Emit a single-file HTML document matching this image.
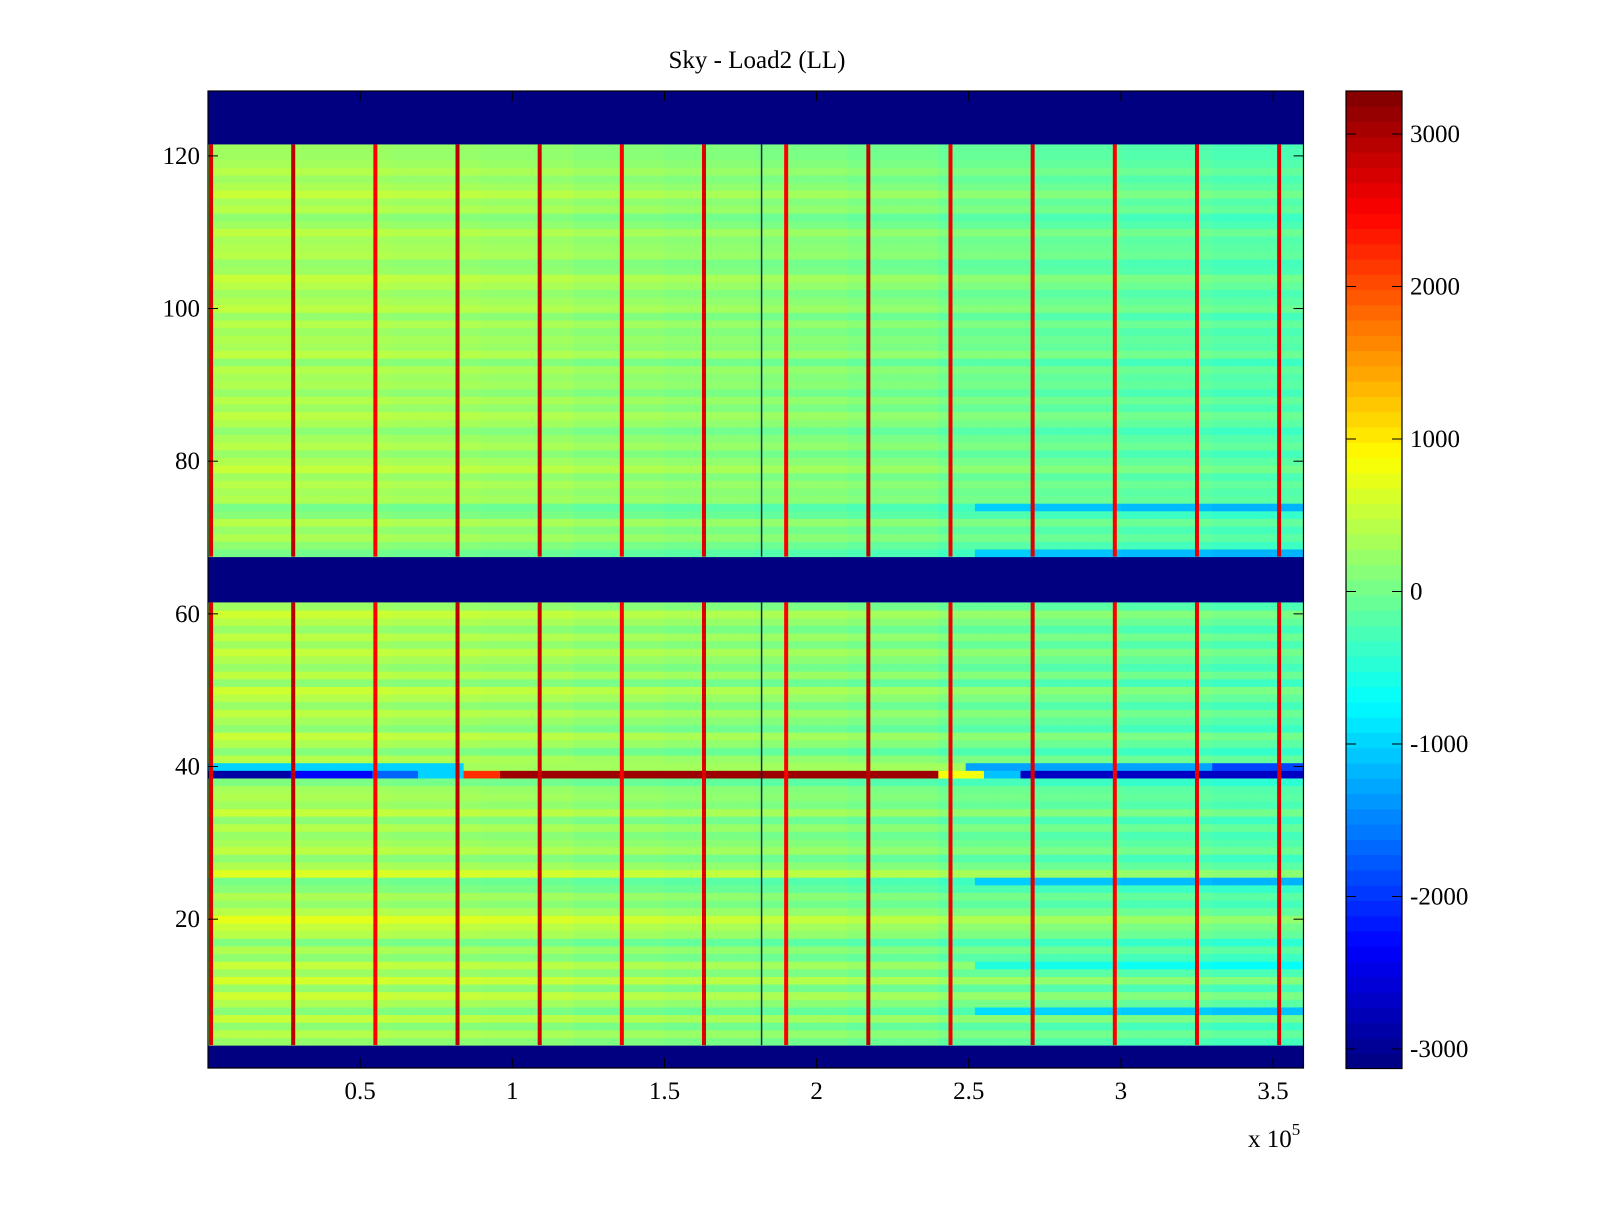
<!DOCTYPE html>
<html><head><meta charset="utf-8">
<style>
html,body{margin:0;padding:0;background:#fff;}
svg text{font-family:"Liberation Serif",serif;font-size:25px;fill:#000;}
</style></head>
<body>
<svg id="chart" width="1600" height="1200" viewBox="0 0 1600 1200" xmlns="http://www.w3.org/2000/svg">
<rect width="1600" height="1200" fill="#fff"/>
<text x="757" y="68" text-anchor="middle">Sky - Load2 (LL)</text>
<g id="cells"></g>
<g id="spikes"></g>
<g id="axes"></g>
<g id="cbar"></g>
<text x="1248" y="1147">x 10<tspan dy="-12" font-size="17">5</tspan></text>
</svg>
<script>
// ---- data ----
const xTicks=[0.5,1,1.5,2,2.5,3,3.5];
const yTicks=[20,40,60,80,100,120];
const cbTicks=[-3000,-2000,-1000,0,1000,2000,3000];
const vMin=-3128, vMax=3282;
const nCols=120, xMax=3.6;
const emptyRows=[[0.5,3.5],[61.5,67.5],[121.5,128.5]];
// column trend per 0.3e5 segment (12 segments)
const colTrend=[280,250,220,190,130,90,50,0,-80,-150,-200,-250];
// row offsets for rows 1..128 (blank rows ignored)
const rowOffset=[0,0,0,-50,150,-100,250,-150,100,300,-50,350,0,250,-100,100,-200,150,250,450,150,-50,100,-150,-250,400,100,-100,200,50,-50,150,-100,250,0,100,50,-200,0,-300,150,-150,100,250,-100,50,200,-50,150,300,-100,200,-50,100,250,0,200,-50,150,300,0,0,0,0,0,0,0,-250,-100,100,-50,150,-150,-250,100,50,150,0,250,100,-50,150,50,-100,100,200,0,150,-50,100,50,150,-100,200,50,100,0,150,-50,200,100,0,150,250,0,-50,150,100,50,200,0,-100,150,50,250,100,0,150,50,0,0,0,0,0,0,0];
// right-side cyan stripe rows (extra negative offset after x>2.5)
const cyanRows=[8,14,25,68,74];
// spike columns (x in 1e5) and values
const spikeX=[0.01,0.28,0.55,0.82,1.09,1.36,1.63,1.90,2.17,2.44,2.71,2.98,3.25,3.52];
const spikeV=[2700,2900,2500,2900,2800,2500,2700,2500,2900,2600,2700,2500,2600,2700];
const darkLineX=[1.82];
// row 39 stripe segments [x0,x1,value]
const stripeRow=39;
const stripeSeg=[[0,0.27,-2900],[0.27,0.55,-2300],[0.55,0.7,-1700],[0.7,0.84,-1000],[0.84,0.95,2200],[0.95,2.4,3100],[2.4,2.55,800],[2.55,2.68,-1100],[2.68,3.6,-2700]];
// row 40 segments
const row40=40;
const row40Seg=[[0,0.85,-1000],[0.85,2.5,300],[2.5,3.3,-1300],[3.3,3.6,-1900]];

// ---- scales ----
const xS=v=>208+v*304.3;
const yS=v=>91+(128.5-v)*7.633;
const cS=v=>591.5-v*0.1525;
function jet(v){let t=(v-vMin)/(vMax-vMin);t=Math.max(0,Math.min(1,t));
 const c=x=>Math.round(255*Math.max(0,Math.min(1,x)));
 return `rgb(${c(1.5-Math.abs(4*t-3))},${c(1.5-Math.abs(4*t-2))},${c(1.5-Math.abs(4*t-1))})`;}
const NS="http://www.w3.org/2000/svg";
function mk(tag,attrs,parent){const e=document.createElementNS(NS,tag);for(const k in attrs)e.setAttribute(k,attrs[k]);parent.appendChild(e);return e;}

const cells=document.getElementById('cells');
const bg=mk('rect',{x:xS(0),y:yS(128.5),width:xS(xMax)-xS(0),height:yS(0.5)-yS(128.5),fill:jet(vMin)},cells);


const isEmpty=r=>emptyRows.some(e=>r>e[0]&&r<e[1]);
const cw=xMax/nCols;
const segVal=(segs,x)=>{const s=segs.find(s=>x>=s[0]&&x<s[1]);return s?s[2]:0;};
for(let r=1;r<=128;r++){
 if(isEmpty(r))continue;
 for(let c=0;c<nCols;c++){
  const x=c*cw, xm=x+cw/2;
  let v;
  if(r===stripeRow)v=segVal(stripeSeg,xm);
  else if(r===row40)v=segVal(row40Seg,xm);
  else{v=colTrend[Math.min(11,Math.floor(x/0.3))]+rowOffset[r-1];
   if(x>2.5&&cyanRows.includes(r))v-=700;}
  const e=mk('rect',{x:xS(x),y:yS(r+0.5),width:xS(x+cw)-xS(x)+0.5,height:yS(r-0.5)-yS(r+0.5)+0.5,fill:jet(v)},cells);
  
  
 }
}
const spikes=document.getElementById('spikes');
const bands=[[3.5,61.5],[67.5,121.5]];
spikeX.forEach((sx,i)=>{bands.forEach(b=>{
 const e=mk('rect',{x:xS(sx)-2,y:yS(b[1]),width:4,height:yS(b[0])-yS(b[1]),fill:jet(spikeV[i])},spikes);
 
 
});});
darkLineX.forEach(sx=>{bands.forEach(b=>{
 const e=mk('rect',{x:xS(sx)-1,y:yS(b[1]),width:1.5,height:yS(b[0])-yS(b[1]),fill:'#124'},spikes);
 
 
});});

// axes
const axes=document.getElementById('axes');
const x0=xS(0),x1=xS(xMax),y0=yS(128.5),y1=yS(0.5);
const frame=mk('rect',{x:x0,y:y0,width:x1-x0,height:y1-y0,fill:'none',stroke:'#000','stroke-width':1.2},axes);


xTicks.forEach(t=>{const X=xS(t);
 mk('line',{x1:X,x2:X,y1:y1,y2:y1-10,stroke:'#000'},axes);
 mk('line',{x1:X,x2:X,y1:y0,y2:y0+10,stroke:'#000'},axes);
 const l=mk('text',{x:X,y:1099,'text-anchor':'middle'},axes);l.textContent=String(t);
 
 
});
yTicks.forEach(t=>{const Y=yS(t);
 mk('line',{x1:x0,x2:x0+10,y1:Y,y2:Y,stroke:'#000'},axes);
 mk('line',{x1:x1,x2:x1-10,y1:Y,y2:Y,stroke:'#000'},axes);
 const l=mk('text',{x:200,y:Y+8,'text-anchor':'end'},axes);l.textContent=String(t);
 
 
});
// colorbar
const cb=document.getElementById('cbar');
const cbx=1346,cbw=56,N=64;
for(let i=0;i<N;i++){const va=vMin+(vMax-vMin)*i/N,vb=vMin+(vMax-vMin)*(i+1)/N;
 const e=mk('rect',{x:cbx,y:cS(vb),width:cbw,height:cS(va)-cS(vb)+0.5,fill:jet((va+vb)/2)},cb);
 
 
}
mk('rect',{x:cbx,y:cS(vMax),width:cbw,height:cS(vMin)-cS(vMax),fill:'none',stroke:'#000','stroke-width':1.2},cb);
cbTicks.forEach(t=>{const Y=cS(t);
 mk('line',{x1:cbx,x2:cbx+10,y1:Y,y2:Y,stroke:'#000'},cb);
 mk('line',{x1:cbx+cbw,x2:cbx+cbw-10,y1:Y,y2:Y,stroke:'#000'},cb);
 const l=mk('text',{x:1410,y:Y+8},cb);l.textContent=String(t);
 
 
});
</script>
</body></html>
